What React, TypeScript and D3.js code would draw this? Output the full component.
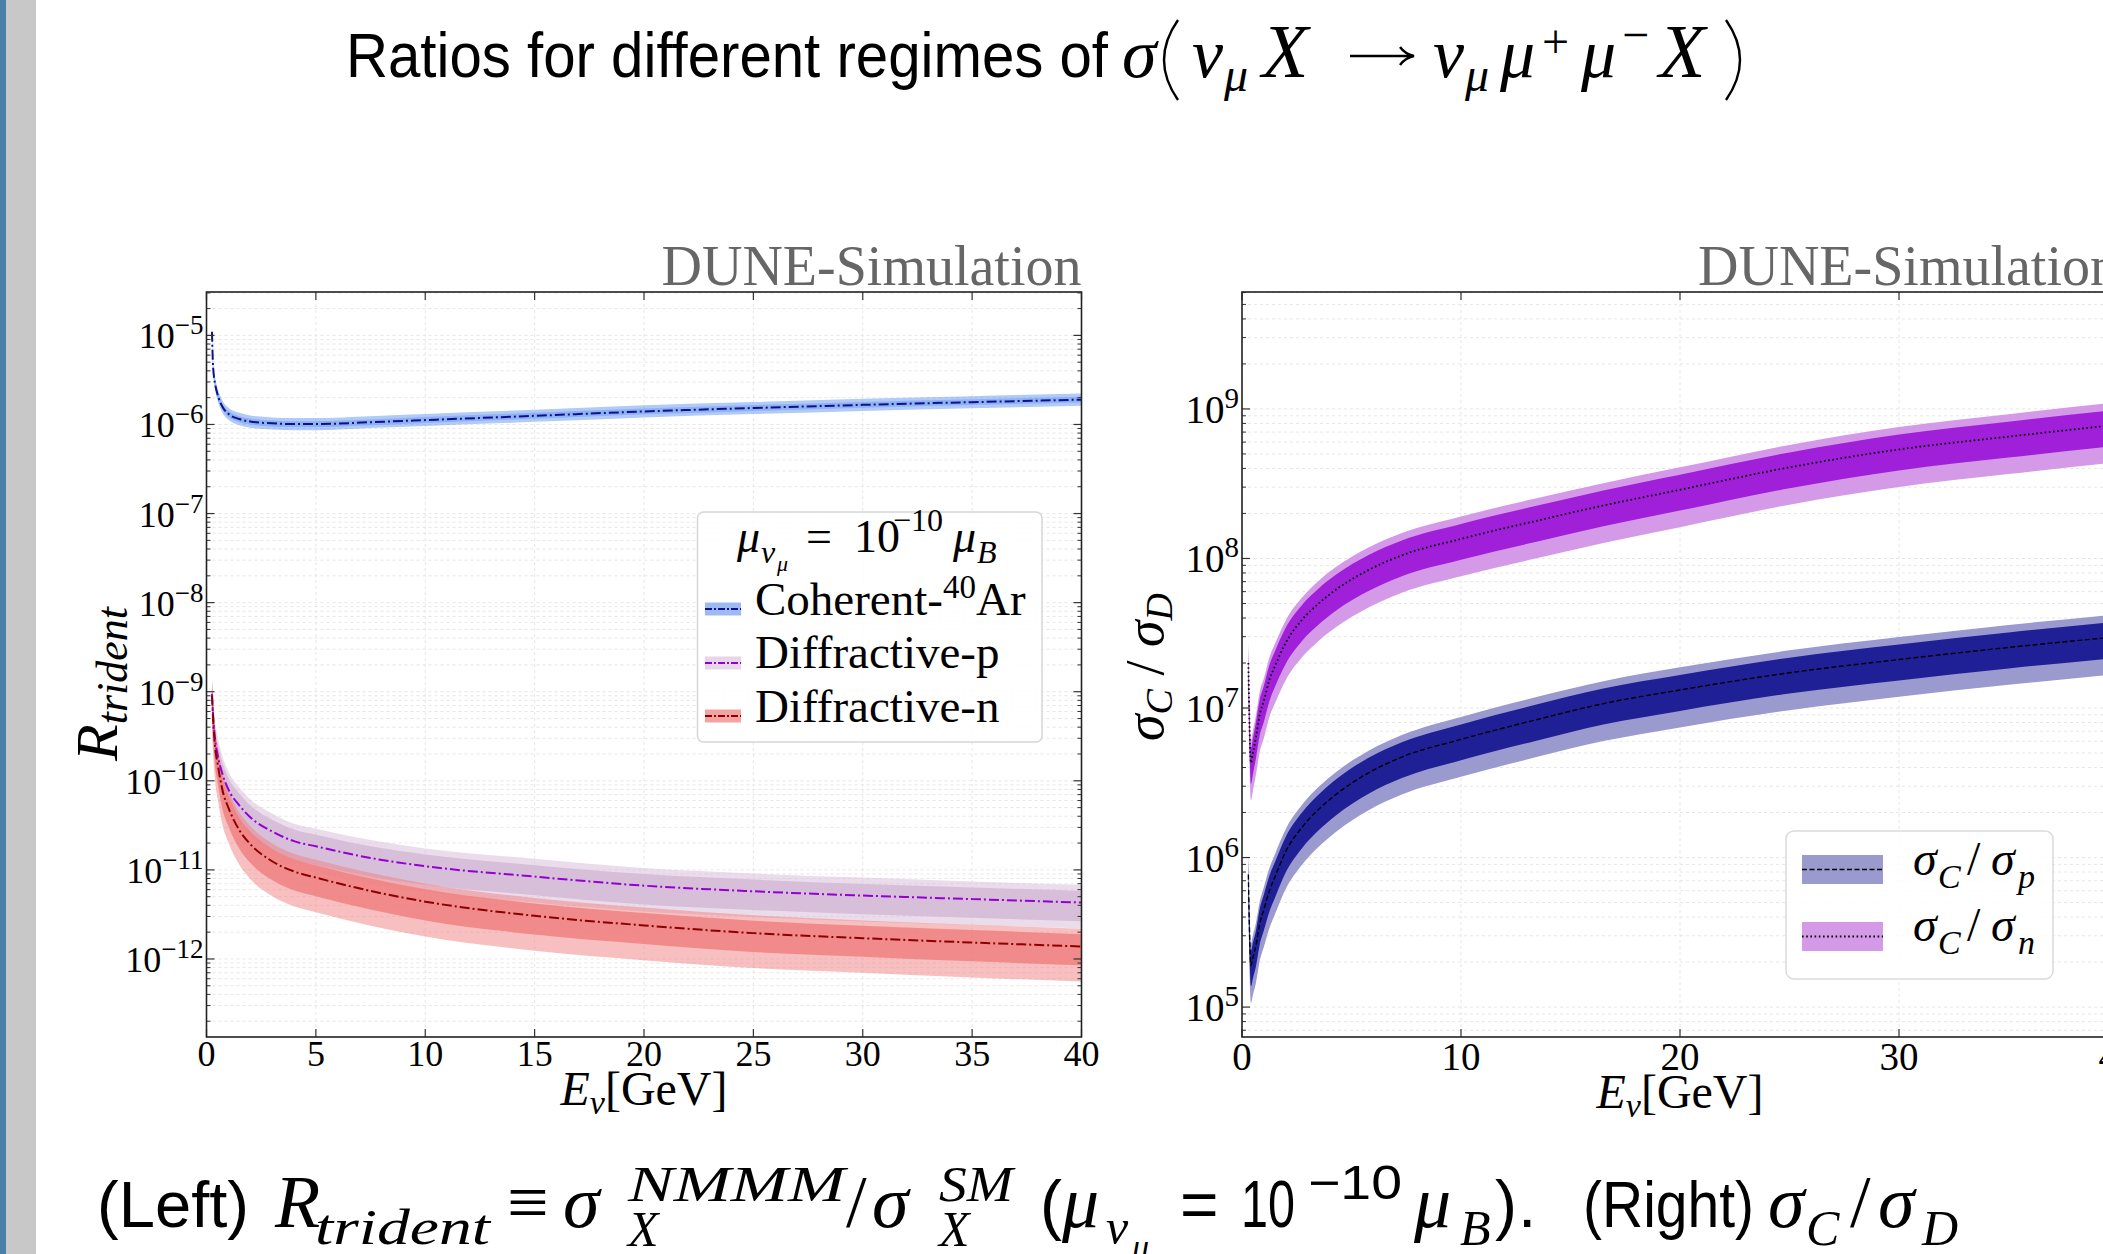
import React from 'react';
import * as d3 from 'd3';

const W = 2103;
const H = 1254;
const SERIF = "'Liberation Serif', 'DejaVu Serif', serif";
const SANS = "'Liberation Sans', 'DejaVu Sans', sans-serif";

// ---------- left panel: R_trident vs E_nu ----------
const eLeft = [0.25, 0.3, 0.4, 0.5, 0.75, 1, 1.5, 2, 3, 4, 5, 7.5, 10, 15, 20, 25, 30, 35, 40];

const cohMid = [1.1e-5, 4.5e-6, 2.8e-6, 2.2e-6, 1.55e-6, 1.32e-6, 1.15e-6, 1.08e-6, 1.03e-6, 1.01e-6, 1.01e-6, 1.06e-6, 1.12e-6, 1.25e-6, 1.4e-6, 1.53e-6, 1.66e-6, 1.78e-6, 1.9e-6];
const cohOutHi = [1.29e-5, 5.3e-6, 3.3e-6, 2.6e-6, 1.81e-6, 1.54e-6, 1.35e-6, 1.26e-6, 1.2e-6, 1.18e-6, 1.18e-6, 1.24e-6, 1.31e-6, 1.46e-6, 1.64e-6, 1.79e-6, 1.94e-6, 2.08e-6, 2.22e-6];
const cohOutLo = [9.4e-6, 3.85e-6, 2.4e-6, 1.88e-6, 1.33e-6, 1.13e-6, 0.98e-6, 0.92e-6, 0.88e-6, 0.86e-6, 0.86e-6, 0.91e-6, 0.96e-6, 1.07e-6, 1.2e-6, 1.31e-6, 1.42e-6, 1.52e-6, 1.62e-6];
const cohInHi = [1.19e-5, 4.86e-6, 3.02e-6, 2.38e-6, 1.67e-6, 1.43e-6, 1.24e-6, 1.17e-6, 1.11e-6, 1.09e-6, 1.09e-6, 1.14e-6, 1.21e-6, 1.35e-6, 1.51e-6, 1.65e-6, 1.79e-6, 1.92e-6, 2.05e-6];
const cohInLo = [1.02e-5, 4.17e-6, 2.59e-6, 2.04e-6, 1.44e-6, 1.22e-6, 1.06e-6, 1.0e-6, 0.95e-6, 0.935e-6, 0.935e-6, 0.98e-6, 1.04e-6, 1.16e-6, 1.3e-6, 1.42e-6, 1.54e-6, 1.65e-6, 1.76e-6];

const dpMid = [9.5e-10, 5.5e-10, 2.8e-10, 2.0e-10, 1.15e-10, 8.0e-11, 5.3e-11, 3.9e-11, 2.7e-11, 2.1e-11, 1.84e-11, 1.36e-11, 1.1e-11, 8.4e-12, 6.65e-12, 5.75e-12, 5.15e-12, 4.7e-12, 4.3e-12];
const dpOutHi = [1.5e-9, 8.7e-10, 4.4e-10, 3.2e-10, 1.82e-10, 1.27e-10, 8.4e-11, 6.2e-11, 4.3e-11, 3.3e-11, 2.9e-11, 2.16e-11, 1.74e-11, 1.33e-11, 1.05e-11, 9.1e-12, 8.2e-12, 7.4e-12, 6.8e-12];
const dpInHi = [1.28e-9, 7.4e-10, 3.8e-10, 2.7e-10, 1.55e-10, 1.08e-10, 7.2e-11, 5.3e-11, 3.65e-11, 2.84e-11, 2.48e-11, 1.84e-11, 1.49e-11, 1.13e-11, 9.0e-12, 7.8e-12, 6.95e-12, 6.35e-12, 5.8e-12];
const dpInLo = [5.9e-10, 3.4e-10, 1.73e-10, 1.23e-10, 7.1e-11, 4.9e-11, 3.3e-11, 2.4e-11, 1.67e-11, 1.3e-11, 1.14e-11, 8.4e-12, 6.8e-12, 5.2e-12, 4.1e-12, 3.55e-12, 3.18e-12, 2.9e-12, 2.65e-12];
const dpOutLo = [4.9e-10, 2.8e-10, 1.44e-10, 1.03e-10, 5.9e-11, 4.1e-11, 2.7e-11, 2.0e-11, 1.39e-11, 1.08e-11, 9.4e-12, 7.0e-12, 5.6e-12, 4.3e-12, 3.4e-12, 2.95e-12, 2.64e-12, 2.41e-12, 2.2e-12];

const dnMid = [9e-10, 5e-10, 2.3e-10, 1.6e-10, 7.5e-11, 5e-11, 2.8e-11, 1.95e-11, 1.25e-11, 9.6e-12, 8.2e-12, 5.8e-12, 4.4e-12, 3.05e-12, 2.38e-12, 1.95e-12, 1.71e-12, 1.53e-12, 1.38e-12];
const dnOutHi = [1.43e-9, 7.9e-10, 3.65e-10, 2.54e-10, 1.19e-10, 7.9e-11, 4.4e-11, 3.1e-11, 1.98e-11, 1.52e-11, 1.3e-11, 9.2e-12, 7.0e-12, 4.83e-12, 3.77e-12, 3.09e-12, 2.71e-12, 2.42e-12, 2.19e-12];
const dnInHi = [1.24e-9, 6.9e-10, 3.17e-10, 2.2e-10, 1.03e-10, 6.9e-11, 3.86e-11, 2.7e-11, 1.72e-11, 1.32e-11, 1.13e-11, 8.0e-12, 6.07e-12, 4.2e-12, 3.28e-12, 2.69e-12, 2.36e-12, 2.11e-12, 1.9e-12];
const dnInLo = [5.55e-10, 3.08e-10, 1.42e-10, 9.9e-11, 4.6e-11, 3.08e-11, 1.73e-11, 1.2e-11, 7.7e-12, 5.9e-12, 5.06e-12, 3.58e-12, 2.71e-12, 1.88e-12, 1.47e-12, 1.2e-12, 1.06e-12, 9.4e-13, 8.5e-13];
const dnOutLo = [3.66e-10, 2.04e-10, 9.4e-11, 6.5e-11, 3.05e-11, 2.04e-11, 1.14e-11, 7.9e-12, 5.1e-12, 3.9e-12, 3.34e-12, 2.36e-12, 1.79e-12, 1.24e-12, 9.7e-13, 7.9e-13, 7.0e-13, 6.2e-13, 5.6e-13];

// ---------- right panel: sigma_C / sigma_D ----------
const eRight = [0.29, 0.41, 0.5, 0.64, 0.8, 1, 1.25, 1.5, 2, 2.75, 3.5, 4.3, 5.8, 7.3, 10, 13.4, 16.5, 20, 25, 30, 35, 40];

const cpMid = [7.7e5, 1.9e5, 2.15e5, 2.6e5, 3.55e5, 4.5e5, 6.0e5, 7.4e5, 1.1e6, 1.6e6, 2.1e6, 2.65e6, 3.7e6, 4.7e6, 6.17e6, 8.32e6, 1.07e7, 1.32e7, 1.72e7, 2.11e7, 2.54e7, 3.0e7];
const cpOutHi = [1.09e6, 2.68e5, 3.04e5, 3.67e5, 5.0e5, 6.36e5, 8.5e5, 1.05e6, 1.55e6, 2.26e6, 2.97e6, 3.74e6, 5.2e6, 6.6e6, 8.72e6, 1.18e7, 1.51e7, 1.87e7, 2.43e7, 2.98e7, 3.59e7, 4.24e7];
const cpInHi = [9.7e5, 2.39e5, 2.71e5, 3.27e5, 4.47e5, 5.67e5, 7.55e5, 9.3e5, 1.38e6, 2.01e6, 2.64e6, 3.34e6, 4.66e6, 5.9e6, 7.77e6, 1.05e7, 1.35e7, 1.66e7, 2.17e7, 2.66e7, 3.2e7, 3.78e7];
const cpInLo = [5.57e5, 1.38e5, 1.56e5, 1.88e5, 2.57e5, 3.26e5, 4.34e5, 5.36e5, 7.96e5, 1.16e6, 1.52e6, 1.92e6, 2.68e6, 3.4e6, 4.47e6, 6.02e6, 7.75e6, 9.56e6, 1.25e7, 1.53e7, 1.84e7, 2.17e7];
const cpOutLo = [4.33e5, 1.07e5, 1.21e5, 1.46e5, 2.0e5, 2.53e5, 3.37e5, 4.16e5, 6.18e5, 8.99e5, 1.18e6, 1.49e6, 2.08e6, 2.64e6, 3.47e6, 4.68e6, 6.01e6, 7.42e6, 9.67e6, 1.19e7, 1.43e7, 1.69e7];

const cnMid = [2.0e7, 4.3e6, 5.0e6, 6.4e6, 8.9e6, 1.12e7, 1.54e7, 1.9e7, 2.74e7, 3.9e7, 5.0e7, 6.2e7, 8.4e7, 1.05e8, 1.35e8, 1.78e8, 2.26e8, 2.88e8, 4.07e8, 5.36e8, 6.53e8, 7.85e8];
const cnOutHi = [2.83e7, 6.1e6, 7.1e6, 9.0e6, 1.26e7, 1.58e7, 2.18e7, 2.68e7, 3.87e7, 5.5e7, 7.1e7, 8.8e7, 1.19e8, 1.48e8, 1.91e8, 2.52e8, 3.19e8, 4.07e8, 5.75e8, 7.57e8, 9.23e8, 1.11e9];
const cnInHi = [2.52e7, 5.4e6, 6.3e6, 8.1e6, 1.12e7, 1.41e7, 1.94e7, 2.39e7, 3.45e7, 4.91e7, 6.3e7, 7.8e7, 1.06e8, 1.32e8, 1.7e8, 2.24e8, 2.85e8, 3.63e8, 5.12e8, 6.75e8, 8.22e8, 9.88e8];
const cnInLo = [1.45e7, 3.11e6, 3.62e6, 4.63e6, 6.44e6, 8.1e6, 1.11e7, 1.38e7, 1.98e7, 2.82e7, 3.62e7, 4.49e7, 6.08e7, 7.6e7, 9.8e7, 1.29e8, 1.64e8, 2.09e8, 2.95e8, 3.88e8, 4.73e8, 5.68e8];
const cnOutLo = [1.12e7, 2.42e6, 2.81e6, 3.6e6, 5.0e6, 6.3e6, 8.7e6, 1.07e7, 1.54e7, 2.19e7, 2.81e7, 3.48e7, 4.72e7, 5.9e7, 7.6e7, 1.0e8, 1.27e8, 1.62e8, 2.29e8, 3.01e8, 3.67e8, 4.41e8];

// tick labels
const xTicksLeft = [0, 5, 10, 15, 20, 25, 30, 35, 40];
const xTicksRight = [0, 10, 20, 30, 40];
const decadesLeft = [-12, -11, -10, -9, -8, -7, -6, -5];
const decadesRight = [5, 6, 7, 8, 9];

type Band = { e: number[]; lo: number[]; hi: number[]; fill: string; op: number };
type Curve = { e: number[]; v: number[]; stroke: string; dash: string; w: number };

type PanelProps = {
  id: string;
  x0: number; x1: number; y0: number; y1: number;
  yMinExp: number; yMaxExp: number;
  xTicks: number[]; decades: number[];
  tickFont: number; supFont: number; labDy: number; supDy: number; xLabY: number;
  bands: Band[]; curves: Curve[];
};

const Panel = (p: PanelProps) => {
  const x = d3.scaleLinear().domain([0, 40]).range([p.x0, p.x1]);
  const y = d3.scaleLog().domain([10 ** p.yMinExp, 10 ** p.yMaxExp]).range([p.y1, p.y0]);
  const minors: number[] = [];
  for (let d = Math.floor(p.yMinExp); d <= Math.ceil(p.yMaxExp); d++) {
    for (let k = 2; k <= 9; k++) {
      const v = k * 10 ** d;
      if (v > 10 ** p.yMinExp && v < 10 ** p.yMaxExp) minors.push(v);
    }
  }
  const area = (b: Band) =>
    d3.area<number>()
      .x((d) => x(d))
      .y0((_, i) => y(b.lo[i]))
      .y1((_, i) => y(b.hi[i]))
      .curve(d3.curveMonotoneX)(b.e) || '';
  const line = (c: Curve) =>
    d3.line<number>()
      .x((d) => x(d))
      .y((_, i) => y(c.v[i]))
      .curve(d3.curveMonotoneX)(c.e) || '';
  const gridStyle = { stroke: '#e6e6e6', strokeWidth: 1, strokeDasharray: '3 3' };
  const tickC = '#333';
  return (
    <g>
      <defs>
        <clipPath id={p.id}>
          <rect x={p.x0} y={p.y0} width={p.x1 - p.x0} height={p.y1 - p.y0} />
        </clipPath>
      </defs>
      {/* grid */}
      {p.xTicks.map((t) => (
        <line key={'gx' + t} x1={x(t)} x2={x(t)} y1={p.y0} y2={p.y1} {...gridStyle} />
      ))}
      {[...p.decades.map((d) => 10 ** d), ...minors].map((v, i) => (
        <line key={'gy' + i} x1={p.x0} x2={p.x1} y1={y(v)} y2={y(v)} {...gridStyle} />
      ))}
      <g clipPath={`url(#${p.id})`}>
        {p.bands.map((b, i) => (
          <path key={'b' + i} d={area(b)} fill={b.fill} fillOpacity={b.op} stroke="none" />
        ))}
        {p.curves.map((c, i) => (
          <path key={'c' + i} d={line(c)} fill="none" stroke={c.stroke} strokeWidth={c.w} strokeDasharray={c.dash} />
        ))}
      </g>
      {/* ticks, inward on all sides */}
      {p.xTicks.map((t) => (
        <g key={'tx' + t}>
          <line x1={x(t)} x2={x(t)} y1={p.y1} y2={p.y1 - 8} stroke={tickC} strokeWidth={1.2} />
          <line x1={x(t)} x2={x(t)} y1={p.y0} y2={p.y0 + 8} stroke={tickC} strokeWidth={1.2} />
          <text x={x(t)} y={p.xLabY} fontFamily={SERIF} fontSize={p.tickFont} textAnchor="middle">{t}</text>
        </g>
      ))}
      {p.decades.map((d) => (
        <g key={'ty' + d}>
          <line x1={p.x0} x2={p.x0 + 8} y1={y(10 ** d)} y2={y(10 ** d)} stroke={tickC} strokeWidth={1.2} />
          <line x1={p.x1} x2={p.x1 - 8} y1={y(10 ** d)} y2={y(10 ** d)} stroke={tickC} strokeWidth={1.2} />
          <text x={p.x0 - 3} y={y(10 ** d) + p.labDy} fontFamily={SERIF} fontSize={p.tickFont} textAnchor="end">
            10<tspan dy={p.supDy} fontSize={p.supFont}>{d < 0 ? '\u2212' + Math.abs(d) : String(d)}</tspan>
          </text>
        </g>
      ))}
      {minors.map((v, i) => (
        <g key={'my' + i}>
          <line x1={p.x0} x2={p.x0 + 4} y1={y(v)} y2={y(v)} stroke={tickC} strokeWidth={1} />
          <line x1={p.x1} x2={p.x1 - 4} y1={y(v)} y2={y(v)} stroke={tickC} strokeWidth={1} />
        </g>
      ))}
      <rect x={p.x0} y={p.y0} width={p.x1 - p.x0} height={p.y1 - p.y0} fill="none" stroke="#222" strokeWidth={1.6} />
    </g>
  );
};

const I = { fontFamily: SERIF, fontStyle: 'italic' as const };
const U = { fontFamily: SERIF };
const S = { fontFamily: SANS };

const App = () => {
  const leftBands: Band[] = [
    { e: eLeft, lo: cohOutLo, hi: cohOutHi, fill: '#6495ed', op: 0.5 },
    { e: eLeft, lo: cohInLo, hi: cohInHi, fill: '#6495ed', op: 0.45 },
    { e: eLeft, lo: dpOutLo, hi: dpOutHi, fill: '#d8bfd8', op: 0.55 },
    { e: eLeft, lo: dpInLo, hi: dpInHi, fill: '#d4b8d6', op: 0.85 },
    { e: eLeft, lo: dnOutLo, hi: dnOutHi, fill: '#f08080', op: 0.5 },
    { e: eLeft, lo: dnInLo, hi: dnInHi, fill: '#f08080', op: 0.85 },
  ];
  const leftCurves: Curve[] = [
    { e: eLeft, v: cohMid, stroke: '#10108f', dash: '10 3 2 3', w: 2 },
    { e: eLeft, v: dpMid, stroke: '#9400d3', dash: '10 3 2 3', w: 2 },
    { e: eLeft, v: dnMid, stroke: '#8b0000', dash: '10 3 2 3', w: 2 },
  ];
  const rightBands: Band[] = [
    { e: eRight, lo: cpOutLo, hi: cpOutHi, fill: '#9a9acf', op: 1 },
    { e: eRight, lo: cpInLo, hi: cpInHi, fill: '#1f1f96', op: 1 },
    { e: eRight, lo: cnOutLo, hi: cnOutHi, fill: '#d49ae8', op: 1 },
    { e: eRight, lo: cnInLo, hi: cnInHi, fill: '#a01fd8', op: 1 },
  ];
  const rightCurves: Curve[] = [
    { e: eRight, v: cpMid, stroke: '#000', dash: '5 2.5', w: 1.4 },
    { e: eRight, v: cnMid, stroke: '#000', dash: '1.6 2.6', w: 1.8 },
  ];

  return (
    <svg width={W} height={H} style={{ position: 'absolute', left: 0, top: 0, background: '#fff' }}>
      <rect x={0} y={0} width={W} height={H} fill="#fff" />
      {/* slide side bar */}
      <rect x={0} y={0} width={6} height={H} fill="#4a80a6" />
      <rect x={6} y={0} width={30} height={H} fill="#c8c8c8" />

      {/* slide title */}
      <text x={346} y={77} {...S} fontSize={63} textLength={762} lengthAdjust="spacingAndGlyphs">Ratios for different regimes of</text>
      <g fontSize={70}>
        <text x={1122} y={77} {...I}>σ</text>
        <path d="M1178,20 Q1150,60 1178,100" fill="none" stroke="#000" strokeWidth={2.4} />
        <text x={1192} y={77} {...I}>ν</text>
        <text x={1224} y={91} {...I} fontSize={48}>μ</text>
        <text x={1262} y={77} {...I} fontSize={76}>X</text>
        <path d="M1350,56 L1413,56 M1400,47 Q1405,54 1414,56 Q1405,58 1400,65" fill="none" stroke="#000" strokeWidth={2.4} />
        <text x={1433} y={77} {...I}>ν</text>
        <text x={1465} y={91} {...I} fontSize={48}>μ</text>
        <text x={1500} y={77} {...I}>μ</text>
        <text x={1542} y={58} {...U} fontSize={48}>+</text>
        <text x={1581} y={77} {...I}>μ</text>
        <text x={1622} y={51} {...U} fontSize={48}>−</text>
        <text x={1659} y={77} {...I} fontSize={76}>X</text>
        <path d="M1726,20 Q1754,60 1726,100" fill="none" stroke="#000" strokeWidth={2.4} />
      </g>

      {/* left panel */}
      <text x={1081.5} y={285} {...U} fontSize={56} fill="#666" textAnchor="end">DUNE-Simulation</text>
      <Panel
        id="clipL" x0={206.5} x1={1081.5} y0={292} y1={1037}
        yMinExp={-12.876} yMaxExp={-4.513}
        xTicks={xTicksLeft} decades={decadesLeft}
        tickFont={36} supFont={27} labDy={13} supDy={-14} xLabY={1066}
        bands={leftBands} curves={leftCurves}
      />
      <text x={644} y={1105} {...U} fontSize={48} textAnchor="middle">
        <tspan {...I}>E</tspan><tspan {...I} fontSize={34} dy={9}>ν</tspan><tspan dy={-9}>[GeV]</tspan>
      </text>
      <text transform="translate(117,684) rotate(-90)" {...I} fontSize={60} textAnchor="middle">
        R<tspan fontSize={44} dy={10}>trident</tspan>
      </text>

      {/* left legend */}
      <rect x={697.5} y={512} width={344.5} height={230} rx={6} fill="#fff" fillOpacity={0.85} stroke="#d6d6d6" strokeWidth={1.5} />
      <g fontSize={46}>
        <text x={737} y={552} {...I}>μ</text>
        <text x={761} y={563} {...I} fontSize={32}>ν</text>
        <text x={777} y={571} {...I} fontSize={22}>μ</text>
        <text x={806} y={552} {...U}>=</text>
        <text x={854} y={552} {...U}>10</text>
        <text x={893} y={531} {...U} fontSize={32}>−10</text>
        <text x={953} y={552} {...I}>μ</text>
        <text x={977} y={563} {...I} fontSize={32}>B</text>
      </g>
      {[
        { y: 609, fill: '#9dbbf2', stroke: '#10108f' },
        { y: 663, fill: '#e6d6e8', stroke: '#9400d3' },
        { y: 716, fill: '#f4a3a3', stroke: '#8b0000' },
      ].map((h, i) => (
        <g key={'lh' + i}>
          <rect x={705} y={h.y - 6.5} width={36} height={13} fill={h.fill} />
          <line x1={705} x2={741} y1={h.y} y2={h.y} stroke={h.stroke} strokeWidth={2} strokeDasharray="7 2 2 2" />
        </g>
      ))}
      <text x={755} y={615} {...U} fontSize={47}>
        Coherent-<tspan fontSize={33} dy={-17}>40</tspan><tspan dy={17}>Ar</tspan>
      </text>
      <text x={755} y={668} {...U} fontSize={47}>Diffractive-p</text>
      <text x={755} y={722} {...U} fontSize={47}>Diffractive-n</text>

      {/* right panel */}
      <text x={2118} y={285} {...U} fontSize={56} fill="#666" textAnchor="end">DUNE-Simulation</text>
      <Panel
        id="clipR" x0={1242} x1={2118} y0={292} y1={1037}
        yMinExp={4.8} yMaxExp={9.782}
        xTicks={xTicksRight} decades={decadesRight}
        tickFont={39} supFont={29} labDy={14} supDy={-15} xLabY={1070}
        bands={rightBands} curves={rightCurves}
      />
      <text x={1680} y={1108} {...U} fontSize={48} textAnchor="middle">
        <tspan {...I}>E</tspan><tspan {...I} fontSize={34} dy={9}>ν</tspan><tspan dy={-9}>[GeV]</tspan>
      </text>
      <text transform="translate(1163,667) rotate(-90)" {...I} fontSize={54} textAnchor="middle">
        σ<tspan fontSize={38} dy={9}>C</tspan><tspan dy={-9} fontStyle="normal"> / </tspan>σ<tspan fontSize={38} dy={9}>D</tspan>
      </text>

      {/* right legend */}
      <rect x={1786} y={831} width={267} height={148} rx={8} fill="#fff" fillOpacity={0.85} stroke="#dadada" strokeWidth={1.5} />
      <rect x={1802} y={855} width={81} height={29} fill="#9a9acf" />
      <line x1={1802} x2={1883} y1={869.5} y2={869.5} stroke="#000" strokeWidth={1.4} strokeDasharray="5 2.5" />
      <rect x={1802} y={922} width={81} height={29} fill="#d49ae8" />
      <line x1={1802} x2={1883} y1={936.5} y2={936.5} stroke="#000" strokeWidth={1.8} strokeDasharray="1.6 2.6" />
      <g fontSize={48}>
        <text x={1913} y={875} {...I}>σ</text>
        <text x={1938} y={888} {...I} fontSize={34}>C</text>
        <text x={1967} y={875} {...U}>/</text>
        <text x={1991} y={875} {...I}>σ</text>
        <text x={2018} y={888} {...I} fontSize={34}>p</text>
        <text x={1913} y={941} {...I}>σ</text>
        <text x={1938} y={954} {...I} fontSize={34}>C</text>
        <text x={1967} y={941} {...U}>/</text>
        <text x={1991} y={941} {...I}>σ</text>
        <text x={2018} y={954} {...I} fontSize={34}>n</text>
      </g>

      {/* caption */}
      <g fontSize={74}>
        <text x={97} y={1227} {...S} fontSize={64} textLength={152} lengthAdjust="spacingAndGlyphs">(Left)</text>
        <text x={275} y={1227} {...I}>R</text>
        <text x={315} y={1244} {...I} fontSize={50} textLength={175} lengthAdjust="spacingAndGlyphs">trident</text>
        <text x={507} y={1227} {...U}>≡</text>
        <text x={563} y={1227} {...I}>σ</text>
        <text x={628} y={1201} {...I} fontSize={50} textLength={217} lengthAdjust="spacingAndGlyphs">NMMM</text>
        <text x={628} y={1246} {...I} fontSize={50}>X</text>
        <text x={846} y={1227} {...U}>/</text>
        <text x={872} y={1227} {...I}>σ</text>
        <text x={939} y={1201} {...I} fontSize={50} textLength={74} lengthAdjust="spacingAndGlyphs">SM</text>
        <text x={939} y={1246} {...I} fontSize={50}>X</text>
        <text x={1040} y={1227} {...S} fontSize={66}>(</text>
        <text x={1062} y={1227} {...I}>μ</text>
        <text x={1106} y={1244} {...I} fontSize={50}>ν</text>
        <text x={1132} y={1258} {...I} fontSize={34}>μ</text>
        <text x={1180} y={1227} {...S} fontSize={66}>=</text>
        <text x={1241} y={1227} {...S} fontSize={66} textLength={54} lengthAdjust="spacingAndGlyphs">10</text>
        <text x={1308} y={1199} {...S} fontSize={48} textLength={94} lengthAdjust="spacingAndGlyphs">−10</text>
        <text x={1414} y={1227} {...I}>μ</text>
        <text x={1460} y={1245} {...I} fontSize={50}>B</text>
        <text x={1495} y={1227} {...S} fontSize={66}>)</text>
        <text x={1518} y={1227} {...S} fontSize={66}>.</text>
        <text x={1583} y={1227} {...S} fontSize={64} textLength={171} lengthAdjust="spacingAndGlyphs">(Right)</text>
        <text x={1768} y={1227} {...I}>σ</text>
        <text x={1806} y={1245} {...I} fontSize={50}>C</text>
        <text x={1850} y={1227} {...U}>/</text>
        <text x={1878} y={1227} {...I}>σ</text>
        <text x={1922} y={1245} {...I} fontSize={50}>D</text>
      </g>
    </svg>
  );
};

export default App;
